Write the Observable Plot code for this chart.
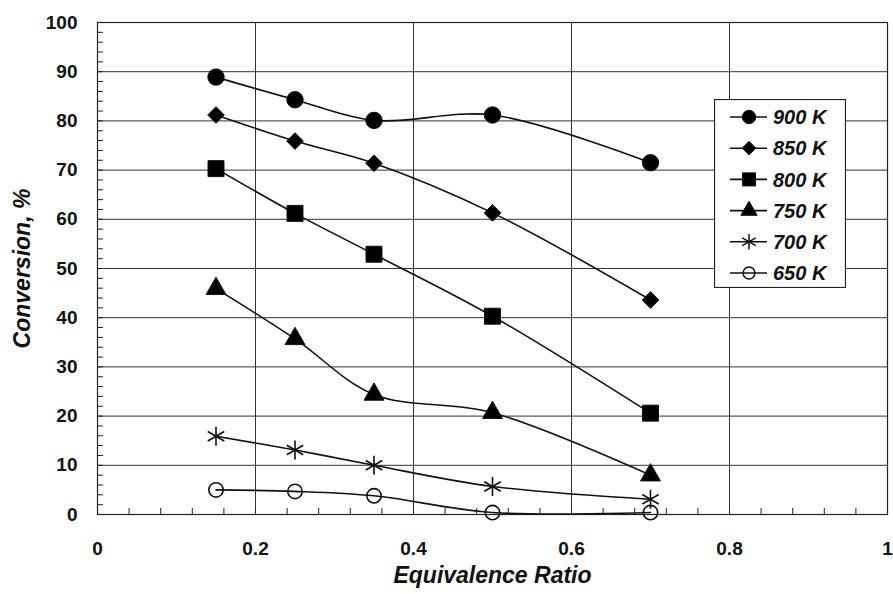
<!DOCTYPE html>
<html><head><meta charset="utf-8">
<script src="https://cdn.jsdelivr.net/npm/d3@7"></script>
<script src="https://cdn.jsdelivr.net/npm/@observablehq/plot@0.6"></script>
<style>
body{margin:0;background:#fff;}
#wrap{position:relative;width:893px;height:594px;font-family:"Liberation Sans",Arial,sans-serif;}
#legend{position:absolute;left:714px;top:99px;}
</style></head>
<body><div id="wrap"><div id="chart"></div><div id="legend"></div></div>
<script>
// Data
const phi = [0.15, 0.25, 0.35, 0.5, 0.7];
const temps = ["900 K", "850 K", "800 K", "750 K", "700 K", "650 K"];
const conv900 = [88.9, 84.3, 80.1, 81.2, 71.5];
const conv850 = [81.2, 75.9, 71.4, 61.3, 43.6];
const conv800 = [70.3, 61.2, 52.9, 40.3, 20.6];
const conv750 = [45.9, 35.7, 24.4, 20.7, 8.0];
const conv700 = [15.9, 13.1, 10.0, 5.7, 3.1];
const conv650 = [5.0, 4.7, 3.8, 0.4, 0.4];
const xTicks = [0, 0.2, 0.4, 0.6, 0.8, 1];
const yTicks = [0, 10, 20, 30, 40, 50, 60, 70, 80, 90, 100];

const seriesValues = [conv900, conv850, conv800, conv750, conv700, conv650];
const symbols = ["circle", "diamond2", "square", "triangle", "asterisk", "circle"];
const fills = ["black", "black", "black", "black", "none", "none"];
const radii = [8.2, 7.5, 9, 7.4, 9, 7.2];

const rows = [];
temps.forEach((t, i) => phi.forEach((p, j) => rows.push({series: t, phi: p, conv: seriesValues[i][j]})));

const marks = [
  Plot.gridY(yTicks, {stroke: "#333", strokeOpacity: 1, strokeWidth: 1}),
  Plot.gridX(xTicks, {stroke: "#333", strokeOpacity: 1, strokeWidth: 1}),
  Plot.frame({stroke: "#222", strokeWidth: 1.2}),
  Plot.axisY(d3.range(0, 101, 2), {tickSize: -6, tickFormat: () => "", stroke: "#222", label: null}),
  Plot.axisX(d3.range(0, 1.001, 0.04), {tickSize: -6, tickFormat: () => "", stroke: "#222", label: null}),
  Plot.axisY(yTicks, {tickSize: 0, tickPadding: 20, fontSize: 19, fontWeight: "bold", fill: "#111", label: null}),
  Plot.axisX(xTicks, {tickSize: 0, tickPadding: 27, fontSize: 19, fontWeight: "bold", fill: "#111", label: null, tickFormat: d => d === 0 || d === 1 ? String(d) : d3.format(".1f")(d)}),
  Plot.text(["Equivalence Ratio"], {frameAnchor: "bottom", textAnchor: "middle", dy: 68, text: d => d, fontSize: 23, fontWeight: "bold", fontStyle: "italic", fill: "#111"}),
  Plot.text(["Conversion, %"], {frameAnchor: "left", textAnchor: "middle", dx: -75, rotate: -90, text: d => d, fontSize: 23, fontWeight: "bold", fontStyle: "italic", fill: "#111"})
];

temps.forEach((t, i) => {
  const d = rows.filter(r => r.series === t);
  marks.push(Plot.line(d, {x: "phi", y: "conv", curve: "catmull-rom", stroke: "#111", strokeWidth: 1.6}));
});
temps.forEach((t, i) => {
  const d = rows.filter(r => r.series === t);
  marks.push(Plot.dot(d, {x: "phi", y: "conv", symbol: () => symbols[i], r: radii[i],
    fill: fills[i], stroke: "#111", strokeWidth: fills[i] === "none" ? 1.6 : 1}));
});

const chart = Plot.plot({
  width: 893, height: 594,
  marginLeft: 97, marginRight: 6, marginTop: 22, marginBottom: 80,
  style: {fontFamily: "'Liberation Sans', Arial, sans-serif", background: "white"},
  x: {domain: [0, 1], axis: null},
  y: {domain: [0, 100], axis: null},
  symbol: {type: "identity"},
  marks
});
document.getElementById("chart").append(chart);

// Legend
const lw = 132, lh = 189, rowH = 31.2, top0 = 18;
const lsvg = d3.create("svg").attr("width", lw).attr("height", lh);
lsvg.append("rect").attr("x", 0.5).attr("y", 0.5).attr("width", lw - 1).attr("height", lh - 1)
  .attr("fill", "white").attr("stroke", "#222").attr("stroke-width", 1.2);
const symMap = {circle: d3.symbolCircle, diamond2: d3.symbolDiamond2, square: d3.symbolSquare, triangle: d3.symbolTriangle, asterisk: d3.symbolAsterisk};
temps.forEach((t, i) => {
  const cy = top0 + i * rowH;
  const g = lsvg.append("g").attr("transform", `translate(0,${cy})`);
  g.append("line").attr("x1", 16).attr("x2", 53).attr("y1", 0).attr("y2", 0).attr("stroke", "#111").attr("stroke-width", 1.6);
  const r = radii[i] * 0.82;
  g.append("path").attr("transform", "translate(35,0)")
    .attr("d", d3.symbol(symMap[symbols[i]], Math.PI * r * r)())
    .attr("fill", fills[i]).attr("stroke", "#111").attr("stroke-width", fills[i] === "none" ? 1.5 : 1);
  g.append("text").attr("x", 59).attr("y", 0).attr("dy", "0.36em")
    .attr("font-family", "'Liberation Sans', Arial, sans-serif").attr("font-size", 20)
    .attr("font-weight", "bold").attr("font-style", "italic").attr("fill", "#111").text(t);
});
document.getElementById("legend").append(lsvg.node());
</script>
</body></html>
